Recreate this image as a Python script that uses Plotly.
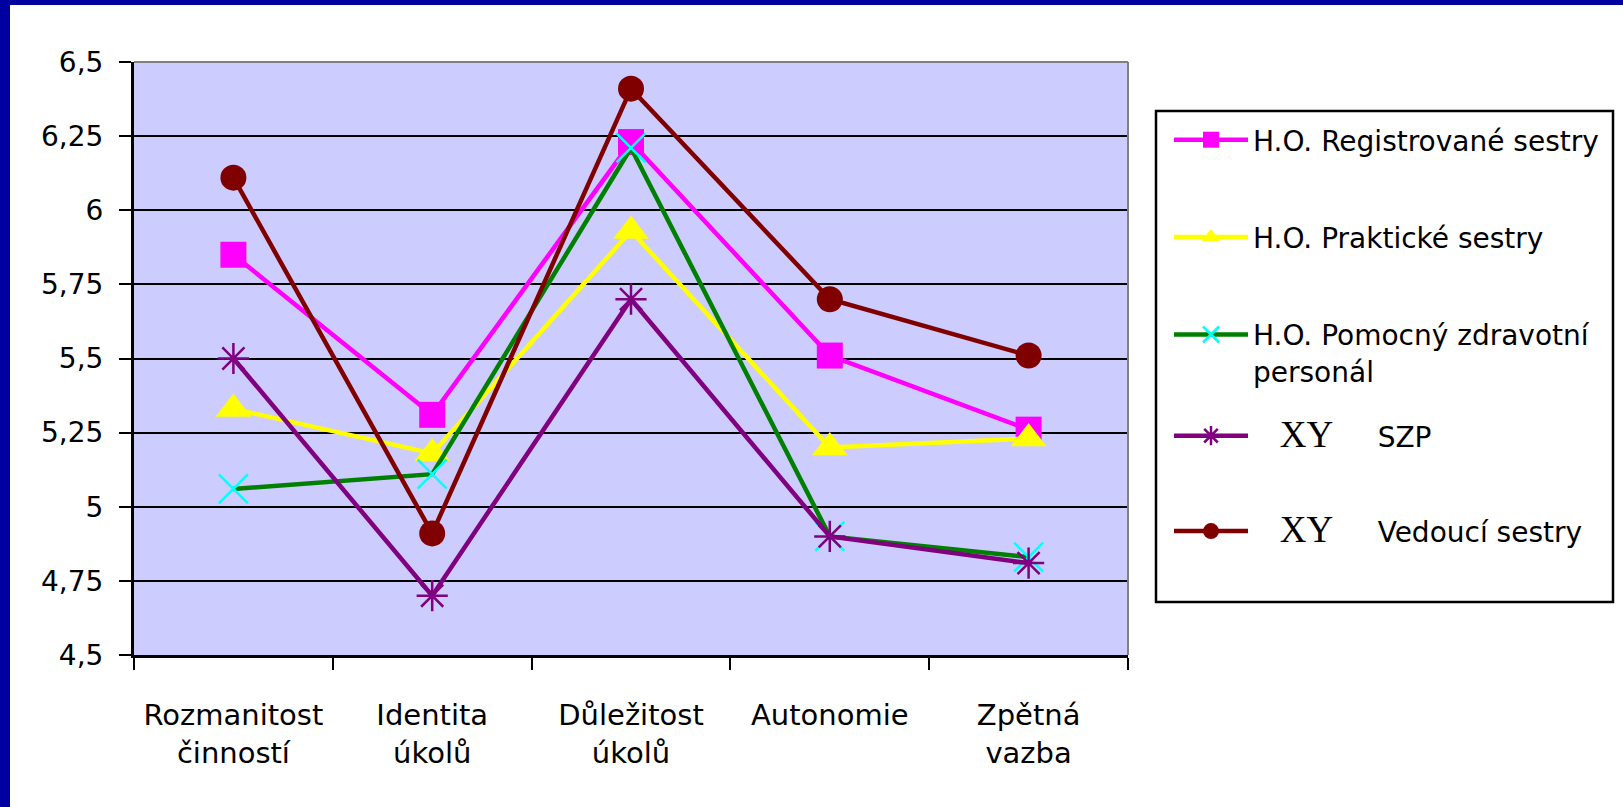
import plotly.graph_objects as go

W, H = 1623, 807
L, R, T, B = 134, 1128, 62, 655  # plot area in px

categories = ["Rozmanitost<br>činností", "Identita<br>úkolů", "Důležitost<br>úkolů",
              "Autonomie", "Zpětná<br>vazba"]
registrovane = [5.85, 5.31, 6.23, 5.51, 5.26]
prakticke = [5.33, 5.18, 5.93, 5.20, 5.23]
pomocny = [5.06, 5.11, 6.21, 4.90, 4.83]
szp = [5.50, 4.70, 5.70, 4.90, 4.81]
vedouci = [6.11, 4.91, 6.41, 5.70, 5.51]

y_tickvals = [4.5, 4.75, 5, 5.25, 5.5, 5.75, 6, 6.25, 6.5]
y_ticktext = ["4,5", "4,75", "5", "5,25", "5,5", "5,75", "6", "6,25", "6,5"]

NB = "\u00a0"
serif = "font-family:'Liberation Serif','Times New Roman',serif;font-size:37px"
names = [
    "H.O. Registrované sestry",
    "H.O. Praktické sestry",
    "H.O. Pomocný zdravotní<br>personál",
    NB * 3 + f"<span style=\"{serif}\">XY</span>" + NB * 5 + "SZP",
    NB * 3 + f"<span style=\"{serif}\">XY</span>" + NB * 5 + "Vedoucí sestry",
]

FONT = "DejaVu Sans"
LEG_SIZE = 28


def px_x(p):
    return (p - L) / (R - L)


def px_y(p):
    return (B - p) / (B - T)


fig = go.Figure()
series = [
    (registrovane, "#FF00FF", dict(symbol="square", size=26, color="#FF00FF"), "legend"),
    (prakticke, "#FFFF00", dict(symbol="triangle-up", size=31, color="#FFFF00"), "legend"),
    (pomocny, "#008000", dict(symbol="x-thin", size=29, color="#00FFFF",
                              line=dict(color="#00FFFF", width=2.5)), "legend"),
    (szp, "#800080", dict(symbol="asterisk", size=26, color="#800080",
                          line=dict(color="#800080", width=2.5)), "legend2"),
    (vedouci, "#800000", dict(symbol="circle", size=26, color="#800000"), "legend2"),
]
for i, ((vals, col, mk, lg), nm) in enumerate(zip(series, names)):
    fig.add_trace(go.Scatter(
        x=categories, y=vals, name=nm, mode="lines+markers",
        line=dict(color=col, width=4.5), marker=mk, legend=lg,
        legendgroup=f"g{i}",
    ))

legend_common = dict(
    xref="container", yref="container", xanchor="left", yanchor="top",
    bgcolor="rgba(0,0,0,0)", borderwidth=0,
    font=dict(family=FONT, size=LEG_SIZE, color="black"),
    valign="top", itemwidth=74,
)

shapes = [
    # navy frame: top and left bands
    dict(type="rect", xref="paper", yref="paper", x0=px_x(0), x1=px_x(W), y0=px_y(5), y1=px_y(0),
         fillcolor="#0000A0", line=dict(width=0), layer="above"),
    dict(type="rect", xref="paper", yref="paper", x0=px_x(0), x1=px_x(10), y0=px_y(H), y1=px_y(0),
         fillcolor="#0000A0", line=dict(width=0), layer="above"),
    # gray plot border top and right
    dict(type="line", xref="paper", yref="paper", x0=0, x1=1, y0=1, y1=1,
         line=dict(color="#808080", width=2), layer="above"),
    dict(type="line", xref="paper", yref="paper", x0=1, x1=1, y0=0, y1=1,
         line=dict(color="#808080", width=2), layer="above"),
    # legend frame
    dict(type="rect", xref="paper", yref="paper", x0=px_x(1156), x1=px_x(1613),
         y0=px_y(602), y1=px_y(111), line=dict(color="black", width=2.5),
         fillcolor="rgba(0,0,0,0)", layer="above"),
]

fig.update_layout(
    width=W, height=H,
    margin=dict(l=L, r=W - R, t=T, b=H - B),
    paper_bgcolor="white", plot_bgcolor="#CCCCFF",
    font=dict(family=FONT, color="black"),
    showlegend=True,
    legend=dict(x=1169 / W, y=1 - 115 / H, tracegroupgap=58, **legend_common),
    legend2=dict(x=1169 / W, y=1 - 411 / H, tracegroupgap=56, **legend_common),
    shapes=shapes,
)
fig.update_xaxes(
    type="category", range=[-0.5, 4.5], tickson="boundaries",
    ticks="outside", ticklen=12, tickwidth=2, tickcolor="black",
    showline=True, linecolor="black", linewidth=3, showgrid=False,
    tickfont=dict(family=FONT, size=29, color="black"), ticklabelstandoff=32,
)
fig.update_yaxes(
    range=[4.5, 6.5], tickvals=y_tickvals, ticktext=y_ticktext,
    ticks="outside", ticklen=12, tickwidth=2, tickcolor="black",
    showline=True, linecolor="black", linewidth=3,
    showgrid=True, gridcolor="black", gridwidth=2, zeroline=False,
    tickfont=dict(family=FONT, size=28, color="black"), ticklabelstandoff=10,
)

fig.write_html("out.html", config={"displayModeBar": False},
               post_script="document.body.style.margin='0px';")
